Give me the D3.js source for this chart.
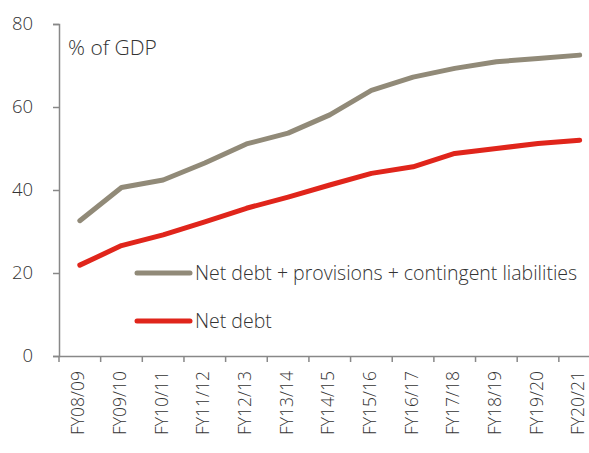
<!DOCTYPE html>
<html><head><meta charset="utf-8">
<script src="https://cdn.jsdelivr.net/npm/d3@7/dist/d3.min.js"></script>
<style>body{margin:0;background:#fff;} text{font-family:"Open Sans","DejaVu Sans",sans-serif;fill:#333;font-weight:300;}</style>
</head><body><svg id="c" width="589" height="453"></svg>
<script>
const categories = ["FY08/09","FY09/10","FY10/11","FY11/12","FY12/13","FY13/14","FY14/15","FY15/16","FY16/17","FY17/18","FY18/19","FY19/20","FY20/21"];
const totalLiab = [32.6,40.6,42.4,46.5,51.1,53.7,58.1,64.0,67.2,69.3,70.9,71.7,72.5];
const netDebt = [21.9,26.6,29.2,32.3,35.6,38.3,41.2,44.0,45.6,48.8,50.0,51.2,52.0];
const yTicks = [0,20,40,60,80];
const seriesNames = ["Net debt + provisions + contingent liabilities","Net debt"];
const colors = ["#918a78","#e0251b"];

const svg = d3.select("#c");
const x = d3.scaleBand().domain(categories).range([59, 600.5]);
const y = d3.scaleLinear().domain([0,80]).range([356,24]);

const yAxis = svg.append("g").attr("transform","translate(59,0)")
  .call(d3.axisLeft(y).tickValues(yTicks).tickSize(6).tickPadding(20));
yAxis.select(".domain").attr("stroke","#888").attr("stroke-width",1.5);
yAxis.selectAll(".tick line").attr("stroke","#888").attr("stroke-width",1.5);
yAxis.selectAll("text").style("font-size","18.5px").style("fill","#333");

const xAxis = svg.append("g").attr("transform","translate(0,356)")
  .call(d3.axisBottom(x).tickSize(0).tickPadding(0));
xAxis.select(".domain").attr("stroke","#888").attr("stroke-width",1.5);
xAxis.selectAll(".tick text")
  .attr("transform","rotate(-90)")
  .attr("text-anchor","end").attr("x",-15).attr("y",-1.5).attr("dy","0.35em")
  .style("font-size","17.5px").style("fill","#333");
// band-boundary ticks
svg.append("g").selectAll("line").data(categories).join("line")
  .attr("x1",d=>x(d)).attr("x2",d=>x(d)).attr("y1",356).attr("y2",362)
  .attr("stroke","#888").attr("stroke-width",1.5);

const line = d3.line().x((d,i)=>x(categories[i])+x.bandwidth()/2).y(d=>y(d));
[totalLiab, netDebt].forEach((s,i)=>{
  svg.append("path").datum(s).attr("d",line).attr("fill","none")
    .attr("stroke",colors[i]).attr("stroke-width",5).attr("stroke-linecap","round").attr("stroke-linejoin","round");
});

svg.append("text").attr("x",68).attr("y",55).text("% of GDP").style("font-size","21px");

const legY = [273, 321];
seriesNames.forEach((n,i)=>{
  svg.append("line").attr("x1",137).attr("x2",190).attr("y1",legY[i]).attr("y2",legY[i])
    .attr("stroke",colors[i]).attr("stroke-width",5).attr("stroke-linecap","round");
  svg.append("text").attr("x",195).attr("y",legY[i]).attr("dy","0.35em").text(n).style("font-size","19.5px");
});
</script></body></html>
